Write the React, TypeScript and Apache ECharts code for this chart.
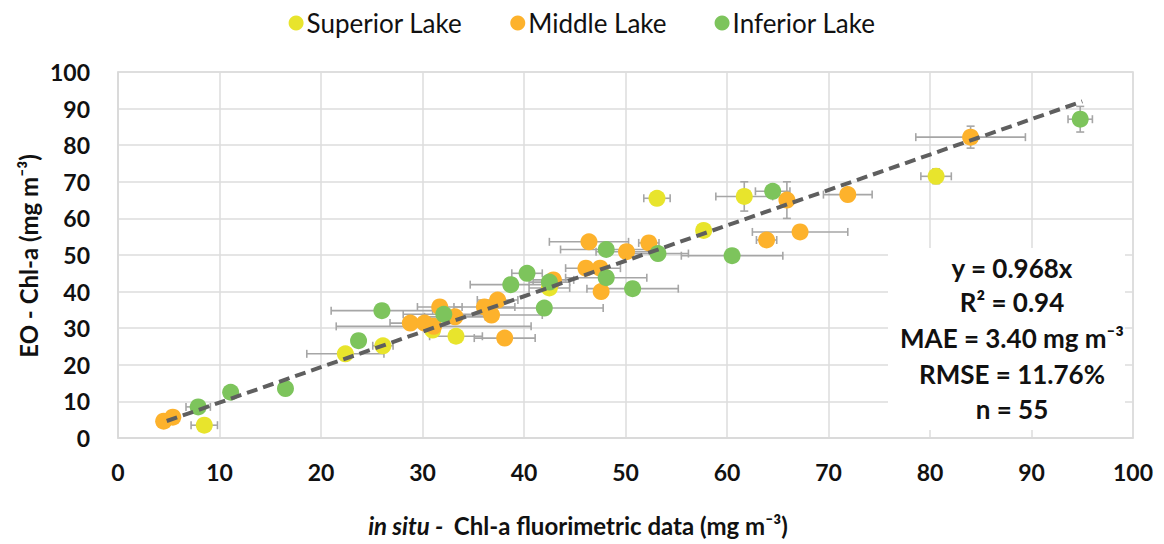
import React, { useEffect, useRef } from "react";
import * as echarts from "echarts";

// [x, y, xErr, yErr]
const superiorLake: number[][] = [
  [8.5, 3.5, 1.3, 0],
  [22.4, 23.0, 3.8, 0],
  [26.1, 25.2, 1.0, 0],
  [31.0, 29.5, 0, 0],
  [33.3, 27.8, 2.6, 0],
  [42.5, 41.0, 2.0, 0],
  [53.1, 65.5, 1.3, 1.2],
  [57.7, 56.7, 0, 0],
  [61.7, 66.0, 2.8, 4.0],
  [80.6, 71.5, 1.5, 2.0],
];

const middleLake: number[][] = [
  [4.5, 4.6, 0, 0],
  [5.4, 5.7, 0, 0],
  [28.8, 31.4, 2.0, 0],
  [30.2, 31.4, 1.5, 0],
  [31.1, 30.5, 9.6, 0],
  [31.7, 35.8, 2.2, 0],
  [33.2, 33.1, 3.0, 0],
  [36.1, 35.8, 3.0, 0],
  [36.8, 33.6, 5.0, 0],
  [37.4, 37.7, 2.0, 0],
  [38.1, 27.3, 3.0, 0],
  [42.9, 43.2, 2.0, 0],
  [46.1, 46.4, 2.0, 0],
  [46.4, 53.6, 3.9, 0],
  [47.5, 46.4, 2.0, 0],
  [47.6, 40.0, 0, 0],
  [50.1, 50.9, 3.0, 0],
  [52.3, 53.3, 1.0, 0],
  [63.9, 54.1, 1.0, 0],
  [65.9, 65.0, 0, 5.0],
  [67.2, 56.3, 4.7, 0],
  [71.9, 66.5, 2.4, 0],
  [84.0, 82.2, 5.4, 3.0],
];

const inferiorLake: number[][] = [
  [7.9, 8.5, 1.2, 0],
  [11.1, 12.5, 0, 0],
  [16.5, 13.5, 0, 0],
  [23.7, 26.6, 0, 0],
  [26.0, 34.8, 5.0, 0],
  [32.1, 33.8, 4.0, 0],
  [38.7, 41.9, 4.0, 0],
  [40.3, 45.0, 1.5, 0],
  [42.0, 35.5, 5.8, 0],
  [42.5, 42.6, 2.0, 0],
  [48.1, 51.5, 4.5, 0],
  [48.1, 43.8, 4.0, 0],
  [50.7, 40.8, 4.5, 0],
  [53.2, 50.4, 3.0, 0],
  [60.5, 49.8, 5.0, 0],
  [64.5, 67.4, 1.7, 0],
  [94.8, 87.1, 1.2, 3.5],
];

const slope = 0.968;
const trendX = [4.8, 95];

const seriesNames = ["Superior Lake", "Middle Lake", "Inferior Lake"];
const seriesColors = ["#e8e42c", "#fdb22c", "#7dc45c"];

const statLines = [
  "y = 0.968x",
  "R² = 0.94",
  "MAE = 3.40 mg m⁻³",
  "RMSE = 11.76%",
  "n = 55",
];

const FONT = "Lato, 'Noto Sans', 'DejaVu Sans', sans-serif";

export default function App() {
  const ref = useRef<HTMLDivElement>(null);

  useEffect(() => {
    if (!ref.current) return;
    const chart = echarts.init(ref.current, undefined, { renderer: "svg" });
    const datasets = [superiorLake, middleLake, inferiorLake];

    const errSeries = datasets.map((d, i) => ({
      type: "custom",
      name: "err" + i,
      data: d,
      encode: { x: 0, y: 1 },
      z: 2,
      silent: true,
      renderItem: (params: any, api: any) => {
        const x = api.value(0);
        const y = api.value(1);
        const ex = api.value(2);
        const ey = api.value(3);
        const children: any[] = [];
        const style = { stroke: "#a6a6a6", lineWidth: 1.6 };
        const cap = 4;
        if (ex > 0) {
          const l = api.coord([x - ex, y]);
          const r = api.coord([x + ex, y]);
          children.push({ type: "line", shape: { x1: l[0], y1: l[1], x2: r[0], y2: r[1] }, style });
          children.push({ type: "line", shape: { x1: l[0], y1: l[1] - cap, x2: l[0], y2: l[1] + cap }, style });
          children.push({ type: "line", shape: { x1: r[0], y1: r[1] - cap, x2: r[0], y2: r[1] + cap }, style });
        }
        if (ey > 0) {
          const t = api.coord([x, y + ey]);
          const b = api.coord([x, y - ey]);
          children.push({ type: "line", shape: { x1: t[0], y1: t[1], x2: b[0], y2: b[1] }, style });
          children.push({ type: "line", shape: { x1: t[0] - cap, y1: t[1], x2: t[0] + cap, y2: t[1] }, style });
          children.push({ type: "line", shape: { x1: b[0] - cap, y1: b[1], x2: b[0] + cap, y2: b[1] }, style });
        }
        return { type: "group", children };
      },
    }));

    const scatterSeries = datasets.map((d, i) => ({
      type: "scatter",
      name: seriesNames[i],
      data: d.map((p) => [p[0], p[1]]),
      symbol: "circle",
      symbolSize: 17,
      itemStyle: { color: seriesColors[i], opacity: 1 },
      z: 3,
    }));

    const labelStyle = { fontFamily: FONT, fontWeight: "bold" as const, fontSize: 23, color: "#111111" };

    chart.setOption({
      animation: false,
      grid: {
        left: 118,
        right: 31,
        top: 72,
        bottom: 106,
        show: true,
        borderColor: "#d9d9d9",
        borderWidth: 1.5,
      },
      legend: {
        top: 5,
        left: "center",
        data: seriesNames,
        icon: "circle",
        itemWidth: 15,
        itemHeight: 15,
        itemGap: 48,
        textStyle: { fontFamily: FONT, fontSize: 26, color: "#111111", padding: [0, 0, 0, -2] },
      },
      xAxis: {
        type: "value",
        min: 0,
        max: 100,
        interval: 10,
        axisLine: { show: true, lineStyle: { color: "#d9d9d9", width: 1.5 } },
        axisTick: { show: false },
        splitLine: { show: true, lineStyle: { color: "#dcdcdc", width: 1.5 } },
        axisLabel: { ...labelStyle, margin: 22 },
      },
      yAxis: {
        type: "value",
        min: 0,
        max: 100,
        interval: 10,
        axisLine: { show: true, lineStyle: { color: "#d9d9d9", width: 1.5 } },
        axisTick: { show: false },
        splitLine: { show: true, lineStyle: { color: "#dcdcdc", width: 1.5 } },
        axisLabel: { ...labelStyle, margin: 28 },
      },
      graphic: [
        {
          type: "rect",
          shape: { x: 888, y: 248, width: 237, height: 182 },
          style: { fill: "#ffffff" },
          z: 1,
          silent: true,
        },
        ...statLines.map((t, i) => ({
          type: "text",
          x: 1012,
          y: [268, 302, 338, 374, 409][i],
          z: 10,
          style: {
            text: t,
            fill: "#111111",
            font: `bold 26px ${FONT}`,
            textAlign: "center",
            textVerticalAlign: "middle",
          },
        })),
        {
          type: "text",
          x: 578,
          y: 525,
          z: 10,
          style: {
            text: "{i|in situ -  }{n|Chl-a fluorimetric data (mg m⁻³)}",
            textAlign: "center",
            textVerticalAlign: "middle",
            rich: {
              i: { fontFamily: FONT, fontWeight: "bold", fontStyle: "italic", fontSize: 24, fill: "#111111" },
              n: { fontFamily: FONT, fontWeight: "bold", fontSize: 24, fill: "#111111" },
            },
          },
        },
        {
          type: "text",
          x: 28,
          y: 256,
          rotation: Math.PI / 2,
          z: 10,
          style: {
            text: "EO - Chl-a (mg m⁻³)",
            fill: "#111111",
            font: `bold 24px ${FONT}`,
            textAlign: "center",
            textVerticalAlign: "middle",
          },
        },
      ],
      series: [
        ...errSeries,
        ...scatterSeries,
        {
          type: "line",
          name: "trend",
          data: trendX.map((x) => [x, slope * x]),
          symbol: "none",
          z: 5,
          silent: true,
          lineStyle: { color: "#5f5f5f", width: 4, type: [11, 6] },
        },
      ],
    });

    return () => chart.dispose();
  }, []);

  return (
    <div
      ref={ref}
      style={{ position: "absolute", left: 0, top: 0, width: 1164, height: 544, background: "#ffffff" }}
    />
  );
}
